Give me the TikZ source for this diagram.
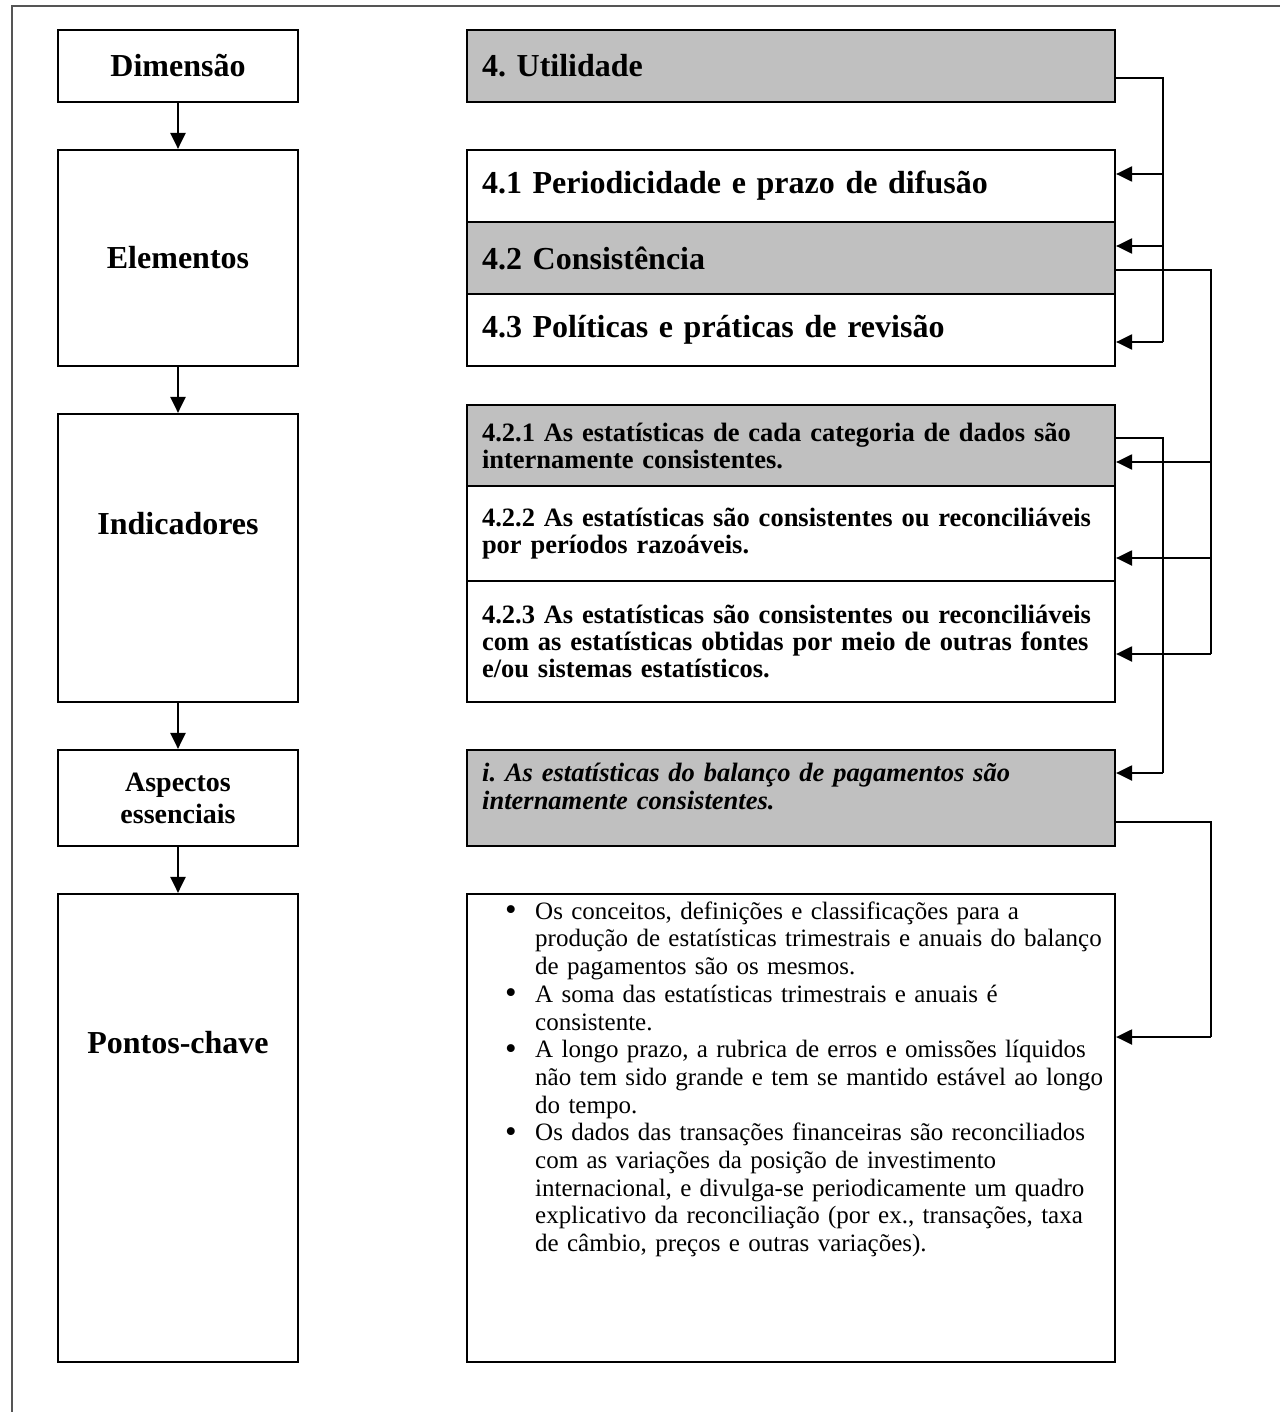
\documentclass[tikz,border=0pt]{standalone}
\usepackage{fontspec}
\setmainfont{Liberation Serif}
\usetikzlibrary{arrows.meta,calc}
\definecolor{boxgray}{RGB}{192,192,192}
\definecolor{framegray}{RGB}{85,85,85}
\frenchspacing
\newcommand{\bdot}{\raisebox{-1.5pt}{\fontsize{33}{33}\selectfont\textbullet}}
\newcommand{\bitem}[1]{\noindent\hangindent=58pt\hangafter=1\makebox[58pt][l]{\hspace{28pt}\bdot}#1\par}
\begin{document}
\begin{tikzpicture}[x=1pt,y=-1pt,
  box/.style={draw=black,line width=2.2pt,inner sep=0pt,rectangle},
  hdr/.style={font=\fontsize{32}{36}\selectfont\bfseries},
  lbox/.style={box,minimum width=240pt,hdr,align=center},
  lbl/.style={inner sep=0pt,hdr,align=center},
  rbox/.style={box,text width=618pt,inner xsep=15pt,inner ysep=0pt,align=left},
  indf/.style={font=\fontsize{26.5}{27}\selectfont\bfseries},
  itf/.style={font=\fontsize{26.5}{28}\selectfont\bfseries\itshape},
  bulf/.style={font=\fontsize{25}{27.7}\selectfont},
  line/.style={draw=black,line width=2.2pt},
  arr/.style={line,-{Triangle[length=16pt,width=15pt]}},
]
\useasboundingbox (0,0) rectangle (1280,1412);
\draw[framegray,line width=2pt] (12,1412) -- (12,6) -- (1280,6);

% left column
\node[lbox,minimum height=72pt] (dim) at (178,66) {Dimensão};
\node[lbox,minimum height=216pt] (ele) at (178,258) {Elementos};
\node[lbox,minimum height=288pt] (ind) at (178,558) {};
\node[lbl] (indl) at (178,524) {Indicadores};
\node[lbox,minimum height=96pt,font=\fontsize{28}{32}\selectfont\bfseries] (asp) at (178,798) {Aspectos\\essenciais};
\node[lbox,minimum height=468pt] (pon) at (178,1128) {};
\node[lbl] (ponl) at (178,1043) {Pontos-chave};

\draw[arr] (dim) -- (ele);
\draw[arr] (ele) -- (ind);
\draw[arr] (ind) -- (asp);
\draw[arr] (asp) -- (pon);

% right column
\node[rbox,fill=boxgray,minimum height=72pt,hdr] (u) at (791,66) {4. Utilidade};
\node[rbox,minimum height=72pt,hdr] (e41) at (791,186) {4.1 Periodicidade e prazo de difusão};
\node[rbox,fill=boxgray,minimum height=72pt,hdr] (e42) at (791,258) {4.2 Consistência};
\node[rbox,minimum height=72pt,hdr] (e43) at (791,330) {4.3 Políticas e práticas de revisão};

\node[rbox,fill=boxgray,minimum height=81pt,indf] (i21) at (791,445.5) {4.2.1 As estatísticas de cada categoria de dados são\newline internamente consistentes.};
\node[rbox,minimum height=95pt,indf] (i22) at (791,533.5) {4.2.2 As estatísticas são consistentes ou reconciliáveis\newline por períodos razoáveis.};
\node[rbox,minimum height=121pt,indf] (i23) at (791,641.5) {4.2.3 As estatísticas são consistentes ou reconciliáveis\newline com as estatísticas obtidas por meio de outras fontes\newline e/ou sistemas estatísticos.};

\node[rbox,fill=boxgray,minimum height=96pt] (ib) at (791,798) {};
\node[anchor=north west,inner sep=0pt,text width=618pt,align=left,itf] (ibt) at (482,762) {\strut i. As estatísticas do balanço de pagamentos são\newline internamente consistentes.};

\node[rbox,minimum height=468pt] (bl) at (791,1128) {};
\node[anchor=north west,inner sep=0pt,text width=632pt,align=left,bulf] (blt) at (477,899.6) {%
\bitem{\strut Os conceitos, definições e classificações para a\newline produção de estatísticas trimestrais e anuais do balanço\newline de pagamentos são os mesmos.}
\bitem{A soma das estatísticas trimestrais e anuais é\newline consistente.}
\bitem{A longo prazo, a rubrica de erros e omissões líquidos\newline não tem sido grande e tem se mantido estável ao longo\newline do tempo.}
\bitem{Os dados das transações financeiras são reconciliados\newline com as variações da posição de investimento\newline internacional, e divulga-se periodicamente um quadro\newline explicativo da reconciliação (por ex., transações, taxa\newline de câmbio, preços e outras variações).}};

% connectors
\coordinate (busA) at (1163,0);
\coordinate (busB) at (1211,0);
\draw[line] (u.east |- 0,78) -| (busA |- 0,342);
\draw[arr] (busA |- 0,174) -- (e41.east |- 0,174);
\draw[arr] (busA |- 0,246) -- (e42.east |- 0,246);
\draw[arr] (busA |- 0,342) -- (e43.east |- 0,342);

\draw[line] (e42.east |- 0,270) -| (busB |- 0,654);
\draw[arr] (busB |- 0,462) -- (i21.east |- 0,462);
\draw[arr] (busB |- 0,558) -- (i22.east |- 0,558);
\draw[arr] (busB |- 0,654) -- (i23.east |- 0,654);

\draw[line] (i21.east |- 0,438) -| (busA |- 0,773);
\draw[arr] (busA |- 0,773) -- (ib.east |- 0,773);

\draw[line] (ib.east |- 0,822) -| (busB |- 0,1037);
\draw[arr] (busB |- 0,1037) -- (bl.east |- 0,1037);
\end{tikzpicture}
\end{document}
